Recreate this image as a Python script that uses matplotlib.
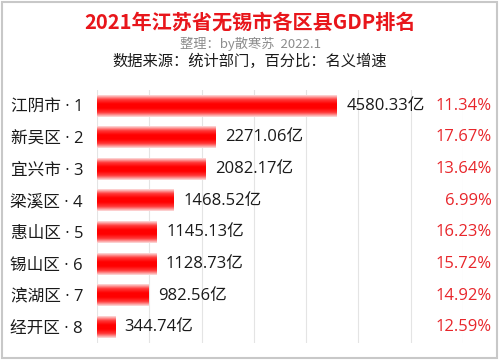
import numpy as np
import matplotlib
matplotlib.use('Agg')
import matplotlib.pyplot as plt
from matplotlib.colors import LinearSegmentedColormap
from matplotlib.patches import Rectangle

plt.rcParams['font.family'] = ['Noto Sans CJK SC', 'DejaVu Sans']

districts = ['江阴市', '新吴区', '宜兴市', '梁溪区', '惠山区', '锡山区', '滨湖区', '经开区']
gdp = [4580.33, 2271.06, 2082.17, 1468.52, 1145.13, 1128.73, 982.56, 344.74]
growth = ['11.34%', '17.67%', '13.64%', '6.99%', '16.23%', '15.72%', '14.92%', '12.59%']

labels = ['%s · %d' % (d, i + 1) for i, d in enumerate(districts)]


def main():
    fig = plt.figure(figsize=(5, 3.6), dpi=100)
    ax = fig.add_axes([0.194, 0.047, 0.732, 0.703])

    # vertical gradient for the bars: pale edges, solid red middle
    cmap = LinearSegmentedColormap.from_list(
        'bar', ['#fcdcdc', '#ff3a3a', '#ff0000', '#ff0000', '#ff3a3a', '#fcdcdc'])
    grad = np.linspace(0, 1, 64).reshape(-1, 1)

    h = 0.68
    for i, v in enumerate(gdp):
        ax.imshow(grad, cmap=cmap, aspect='auto', interpolation='bilinear',
                  extent=(0, v, i + h / 2, i - h / 2), zorder=2)
        ax.annotate('%.2f亿' % v, (v, i), xytext=(7, 0), textcoords='offset points',
                    va='center', ha='left', fontsize=12, color='#1a1a1a',
                    family=['Open Sans', 'Noto Sans CJK SC'])

    trans = ax.get_yaxis_transform()
    for i, g in enumerate(growth):
        ax.text(1.078, i, g, transform=trans, ha='right', va='center',
                fontsize=12, color='#e8262b', clip_on=False,
                family=['Open Sans', 'Noto Sans CJK SC'])

    ax.set_xlim(0, 7000)
    ax.set_ylim(len(gdp) - 0.5, -0.5)
    ax.set_xticks(np.arange(0, 7001, 1000))
    ax.set_xticklabels([])
    ax.tick_params(axis='x', length=0)
    ax.set_yticks(range(len(labels)))
    ax.set_yticklabels(labels, fontsize=12, color='#1a1a1a',
                       family=['Open Sans', 'Noto Sans CJK SC'])
    ax.tick_params(axis='y', length=0, pad=10)
    ax.grid(axis='x', color='#e4e4e4', linewidth=0.8, zorder=0)
    ax.set_axisbelow(True)
    for s in ax.spines.values():
        s.set_visible(False)

    fig.text(0.5, 0.94, '2021年江苏省无锡市各区县GDP排名', ha='center', va='center',
             fontsize=14.5, fontweight='bold', color='#e8161b')
    fig.text(0.5, 0.878, '整理：by散寒苏  2022.1', ha='center', va='center',
             fontsize=9.5, color='#8c8c8c')
    fig.text(0.5, 0.828, '数据来源：统计部门，百分比：名义增速', ha='center', va='center',
             fontsize=11, color='#1a1a1a')

    fig.patches.append(Rectangle((0.004, 0.006), 0.99, 0.988, transform=fig.transFigure,
                                 fill=False, edgecolor='#c8c8c8', linewidth=1.5))

    fig.savefig('out.png', dpi=100)


if __name__ == '__main__':
    main()
